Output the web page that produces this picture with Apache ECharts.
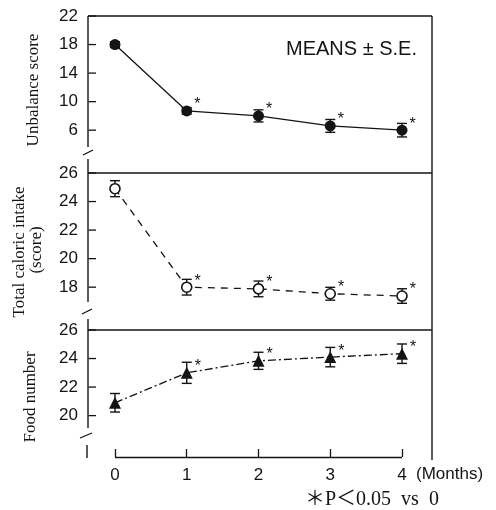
<!DOCTYPE html>
<html><head><meta charset="utf-8">
<style>html,body{margin:0;padding:0;background:#fff}#c{width:496px;height:510px}</style>
<script src="https://cdn.jsdelivr.net/npm/echarts@6/dist/echarts.min.js"></script>
</head><body><div id="c"></div>
<script>
// ---- data ----
const months = [0, 1, 2, 3, 4];
const monthLabels = ['0', '1', '2', '3', '4'];
const unbalanceMean = [18.0, 8.7, 8.0, 6.6, 6.0];
const unbalanceSE = [0.4, 0.45, 0.85, 0.9, 0.95];
const caloricMean = [24.9, 18.0, 17.88, 17.54, 17.38];
const caloricSE = [0.56, 0.55, 0.55, 0.45, 0.51];
const foodMean = [20.9, 23.0, 23.84, 24.1, 24.34];
const foodSE = [0.65, 0.74, 0.6, 0.68, 0.68];
const stars = ['', '*', '*', '*', '*'];
const unbalanceTicks = [6, 10, 14, 18, 22];
const caloricTicks = [18, 20, 22, 24, 26];
const foodTicks = [20, 22, 24, 26];

// ---- chart ----
const chart = echarts.init(document.getElementById('c'), null, {renderer: 'canvas'});
const INK = '#141414';
const SANS = '"Liberation Sans", Arial, sans-serif';
const SERIF = '"Liberation Serif", "Times New Roman", serif';

const X_MIN = -0.362;
const FOOD_MIN = 17.1;
const grids = [
  {left: 89, right: 94, top: 16, height: 157},
  {left: 89, right: 94, top: 173, height: 157},
  {left: 89, right: 94, top: 330, height: 127}
];

function yAx(gridIndex, min, max, ticks) {
  return {
    type: 'value', gridIndex, min, max,
    axisLine: {show: false},
    splitLine: {show: false},
    axisTick: {show: false},
    axisLabel: {customValues: ticks, margin: 11, fontSize: 17, fontFamily: SANS, color: INK}
  };
}
function xAx(gridIndex, visible) {
  return {
    type: 'value', gridIndex, min: X_MIN, max: 4, show: visible,
    axisLine: {show: false, onZero: false},
    axisTick: {show: true, inside: true, length: 8, customValues: months, lineStyle: {color: INK, width: 1.3}},
    splitLine: {show: false},
    axisLabel: {customValues: months, margin: 10, fontSize: 17, fontFamily: SANS, color: INK,
      formatter: v => monthLabels[months.indexOf(v)]}
  };
}
// inward y ticks drawn through the axis scale
function tickSeries(idx, ticks) {
  return {
    type: 'custom', xAxisIndex: idx, yAxisIndex: idx, z: 4, silent: true, animation: false, clip: false,
    encode: {x: 0, y: 1},
    data: ticks.map(v => [X_MIN, v]),
    renderItem(params, api) {
      const p = api.coord([api.value(0), api.value(1)]);
      return {type: 'line', shape: {x1: p[0] - 0.5, y1: p[1], x2: p[0] + 7, y2: p[1]},
        style: {stroke: INK, lineWidth: 1.3}};
    }
  };
}
function errSeries(idx, mean, se) {
  return {
    type: 'custom', xAxisIndex: idx, yAxisIndex: idx, z: 2, silent: true, animation: false,
    encode: {x: 0, y: [1, 2]},
    data: months.map((m, i) => [m, mean[i] - se[i], mean[i] + se[i]]),
    renderItem(params, api) {
      const lo = api.coord([api.value(0), api.value(1)]);
      const hi = api.coord([api.value(0), api.value(2)]);
      const w = 5;
      const style = {stroke: INK, lineWidth: 1.4};
      return {type: 'group', children: [
        {type: 'line', shape: {x1: lo[0], y1: lo[1], x2: hi[0], y2: hi[1]}, style},
        {type: 'line', shape: {x1: lo[0] - w, y1: lo[1], x2: lo[0] + w, y2: lo[1]}, style},
        {type: 'line', shape: {x1: hi[0] - w, y1: hi[1], x2: hi[0] + w, y2: hi[1]}, style}
      ]};
    }
  };
}
function lineSeries(idx, mean, symbol, size, hollow, dash) {
  return {
    type: 'line', xAxisIndex: idx, yAxisIndex: idx, z: 3, animation: false,
    data: months.map((m, i) => [m, mean[i]]),
    symbol, symbolSize: size, showAllSymbol: true,
    lineStyle: {color: INK, width: 1.3, type: dash},
    itemStyle: {color: hollow ? '#fff' : INK, borderColor: INK, borderWidth: hollow ? 1.6 : 0, opacity: 1},
    label: {show: true, position: 'right', distance: 2, offset: [0, -6],
      formatter: p => stars[p.dataIndex], fontSize: 16, fontFamily: SANS, color: INK},
    emphasis: {disabled: true}
  };
}

const foodLine = lineSeries(2, foodMean, 'triangle', 12, false, [8, 3, 2, 3]);
// x axis baseline from month 0 to month 4
foodLine.markLine = {
  silent: true, symbol: 'none', animation: false, label: {show: false},
  lineStyle: {color: INK, width: 1.4, type: 'solid'},
  data: [[{coord: [months[0], FOOD_MIN]}, {coord: [months[months.length - 1], FOOD_MIN]}]]
};

const L = (x1, y1, x2, y2, w) => ({type: 'line', z: 10, shape: {x1, y1, x2, y2}, style: {stroke: INK, lineWidth: w || 1.4}});
const T = (text, x, y, opts) => ({type: 'text', z: 10, x, y, rotation: opts.rot || 0,
  style: {text, x: 0, y: 0, align: opts.align || 'center', verticalAlign: 'middle', font: opts.font, fill: INK}});

chart.setOption({
  animation: false,
  backgroundColor: '#fff',
  grid: grids.map(g => Object.assign({containLabel: false, show: false}, g)),
  xAxis: [xAx(0, false), xAx(1, false), xAx(2, true)],
  yAxis: [yAx(0, 0, 22, unbalanceTicks), yAx(1, 15, 26, caloricTicks), yAx(2, FOOD_MIN, 26, foodTicks)],
  series: [
    tickSeries(0, unbalanceTicks),
    tickSeries(1, caloricTicks),
    tickSeries(2, foodTicks),
    errSeries(0, unbalanceMean, unbalanceSE),
    lineSeries(0, unbalanceMean, 'circle', 11, false, 'solid'),
    errSeries(1, caloricMean, caloricSE),
    lineSeries(1, caloricMean, 'circle', 10, true, [7, 6]),
    errSeries(2, foodMean, foodSE),
    foodLine
  ],
  graphic: [
    // frame
    L(88, 16, 432, 16), L(88, 173, 432, 173, 1.6), L(88, 330, 432, 330, 1.6), L(432, 16, 432, 460),
    // left axis with breaks
    L(88, 16, 88, 147), L(88, 159, 88, 302), L(88, 319, 88, 428), L(87, 445, 87, 458),
    L(83, 155, 93, 150, 1.3), L(82, 314, 92, 309, 1.3), L(80, 438, 92, 433, 1.3),
    // texts
    T('Unbalance score', 34, 90, {rot: Math.PI / 2, font: '17px ' + SERIF}),
    T('Total caloric intake', 20, 252, {rot: Math.PI / 2, font: '17px ' + SERIF}),
    T('(score)', 37, 250, {rot: Math.PI / 2, font: '17px ' + SERIF}),
    T('Food number', 31, 397, {rot: Math.PI / 2, font: '17px ' + SERIF}),
    T('MEANS ± S.E.', 417, 49, {align: 'right', font: '20px ' + SANS}),
    T('(Months)', 416, 474, {align: 'left', font: '17px ' + SANS}),
    T('＊P＜0.05  vs  0', 305, 500, {align: 'left', font: '20px "Liberation Serif", "Noto Sans CJK JP", serif'})
  ]
});
</script></body></html>
